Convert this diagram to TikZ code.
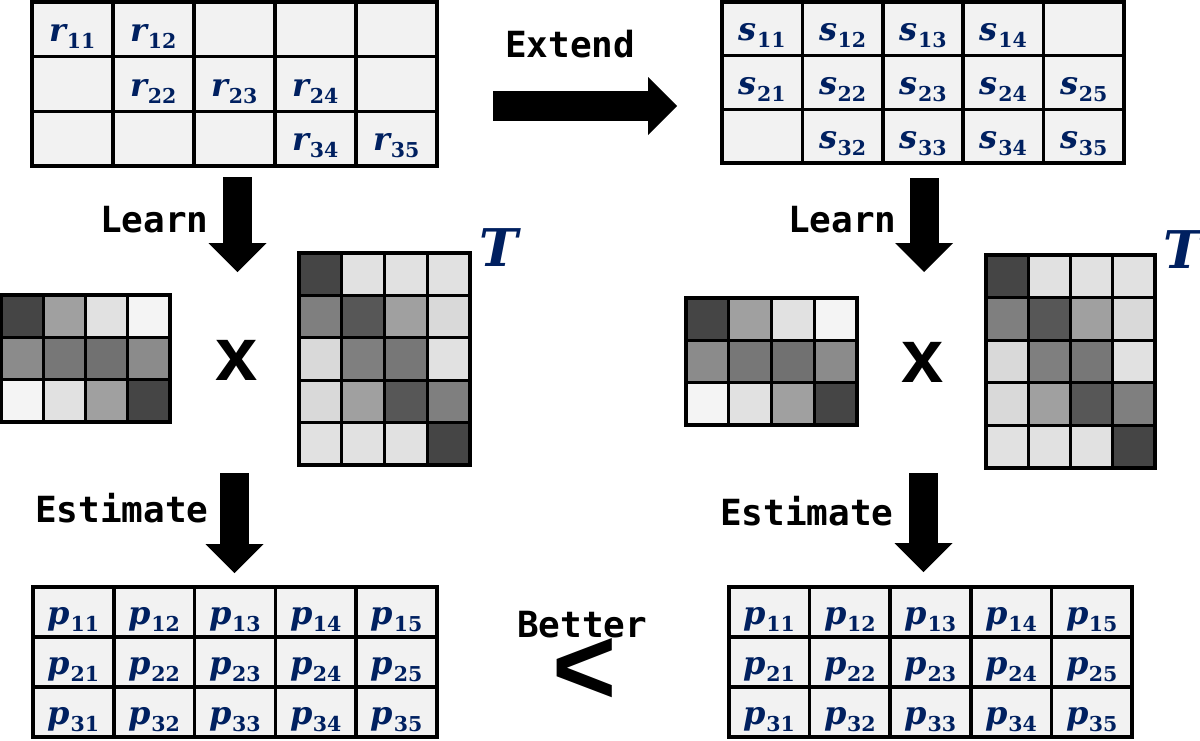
\RequirePackage{fix-cm}
\documentclass[tikz,border=0pt]{standalone}
\usepackage{fontspec}
\newfontfamily\monob{DejaVu Sans Mono}
\newfontfamily\sansb{Liberation Sans}
\newfontfamily\entryserif{DejaVu Serif}
\usetikzlibrary{arrows.meta}
\definecolor{navy}{RGB}{0,32,96}
\definecolor{cellgray}{HTML}{F2F2F2}
\definecolor{gA}{HTML}{454545}
\definecolor{gB}{HTML}{575757}
\definecolor{gC}{HTML}{717171}
\definecolor{gD}{HTML}{777777}
\definecolor{gE}{HTML}{7F7F7F}
\definecolor{gF}{HTML}{8B8B8B}
\definecolor{gG}{HTML}{A0A0A0}
\definecolor{gH}{HTML}{D9D9D9}
\definecolor{gI}{HTML}{E1E1E1}
\definecolor{gJ}{HTML}{F4F4F4}
\newcommand\ent[2]{{\fontsize{32}{36}\selectfont\itshape #1}\kern0.5pt\raisebox{-7pt}{\fontsize{20.5}{22}\selectfont #2}}
\tikzset{
  cellbox/.style={draw=black, line width=3.5pt, fill=cellgray},
  shadebox/.style={draw=black, line width=3.2pt},
  entry/.style={inner sep=0pt, anchor=base, text=navy, font=\entryserif\bfseries},
  steplabel/.style={inner sep=0pt, anchor=base west, font=\monob\bfseries\fontsize{36}{40}\selectfont},
  timesmark/.style={inner sep=0pt, font=\sansb\bfseries\fontsize{76}{80}\selectfont},
  transmark/.style={inner sep=0pt, text=navy, font=\entryserif\bfseries\itshape\fontsize{52}{60}\selectfont},
  blockarrow/.style={line width=29pt, -{Triangle[length=29pt,width=58pt,line width=0pt]}},
}
% #1 name, #2 letter, #3 x0, #4 y0, #5 cell w, #6 cell h, #7 list of i/j
\newcommand\entrygrid[7]{%
  \foreach \i in {1,2,3}{\foreach \j in {1,...,5}{%
    \path[cellbox] ({#3+(\j-1)*#5},{#4+(\i-1)*#6}) rectangle ++(#5,#6);}}
  \foreach \i/\j in {#7}{%
    \node[entry] (#1\i\j) at ({#3+(\j-0.5)*#5},{#4+(\i-0.5)*#6+12}) {\ent{#2}{\i\j}};}
}
% #1 x0, #2 y0, #3 cell w, #4 cell h, #5 rows of colours
\newcommand\shadegrid[5]{%
  \foreach \rowlist [count=\i] in {#5}{%
    \foreach \c [count=\j] in \rowlist {%
      \path[shadebox, fill=\c] ({#1+(\j-1)*#3},{#2+(\i-1)*#4}) rectangle ++(#3,#4);}}
}
\begin{document}
\begin{tikzpicture}[x=1pt,y=-1pt]
\useasboundingbox (0,0) rectangle (1200,740);
\fill[white] (0,0) rectangle (1200,740);

% rating grids
\entrygrid{r}{r}{32}{2}{81}{54.67}{1/1,1/2,2/2,2/3,2/4,3/4,3/5}
\entrygrid{s}{s}{722}{2}{80.4}{53.67}{1/1,1/2,1/3,1/4,2/1,2/2,2/3,2/4,2/5,3/2,3/3,3/4,3/5}
\entrygrid{pL}{p}{33}{587}{80.8}{50}{1/1,1/2,1/3,1/4,1/5,2/1,2/2,2/3,2/4,2/5,3/1,3/2,3/3,3/4,3/5}
\entrygrid{pR}{p}{729}{587}{80.6}{50}{1/1,1/2,1/3,1/4,1/5,2/1,2/2,2/3,2/4,2/5,3/1,3/2,3/3,3/4,3/5}

% factor matrices
\shadegrid{1}{295}{42.25}{42.33}{{gA,gG,gI,gJ},{gF,gD,gC,gF},{gJ,gI,gG,gA}}
\shadegrid{299}{253}{42.75}{42.4}{{gA,gI,gI,gI},{gE,gB,gG,gH},{gH,gE,gD,gI},{gH,gG,gB,gE},{gI,gI,gI,gA}}
\shadegrid{686}{298}{42.75}{42.33}{{gA,gG,gI,gJ},{gF,gD,gC,gF},{gJ,gI,gG,gA}}
\shadegrid{986}{255}{42.25}{42.6}{{gA,gI,gI,gI},{gE,gB,gG,gH},{gH,gE,gD,gI},{gH,gG,gB,gE},{gI,gI,gI,gA}}

\node[timesmark] (timesL) at (237,360) {x};
\node[timesmark] (timesR) at (923,362) {x};
\node[transmark] (transL) at (499,248) {T};
\node[transmark] (transR) at (1183,250) {T};

% step labels
\node[steplabel] (extendlbl) at (505,57) {Extend};
\node[steplabel] (learnL) at (100,232) {Learn};
\node[steplabel] (learnR) at (788,232) {Learn};
\node[steplabel] (estL) at (35,522) {Estimate};
\node[steplabel] (estR) at (720,525) {Estimate};
\node[steplabel] (betterlbl) at (517,637) {Better};
\node[inner sep=0pt, font=\sansb\bfseries\fontsize{110}{120}\selectfont] (lessmark) at (585,671) {<};

% arrows
\coordinate (extS) at (493,106);  \coordinate (extE) at (677,106);
\coordinate (lLS) at (237.5,177); \coordinate (lLE) at (237.5,272);
\coordinate (lRS) at (924,178);   \coordinate (lRE) at (924,272);
\coordinate (eLS) at (234.5,473); \coordinate (eLE) at (234.5,573);
\coordinate (eRS) at (923.5,473); \coordinate (eRE) at (923.5,572);
\draw[blockarrow, line width=30pt] (extS) -- (extE);
\draw[blockarrow] (lLS) -- (lLE);
\draw[blockarrow] (lRS) -- (lRE);
\draw[blockarrow] (eLS) -- (eLE);
\draw[blockarrow] (eRS) -- (eRE);
\end{tikzpicture}
\end{document}
